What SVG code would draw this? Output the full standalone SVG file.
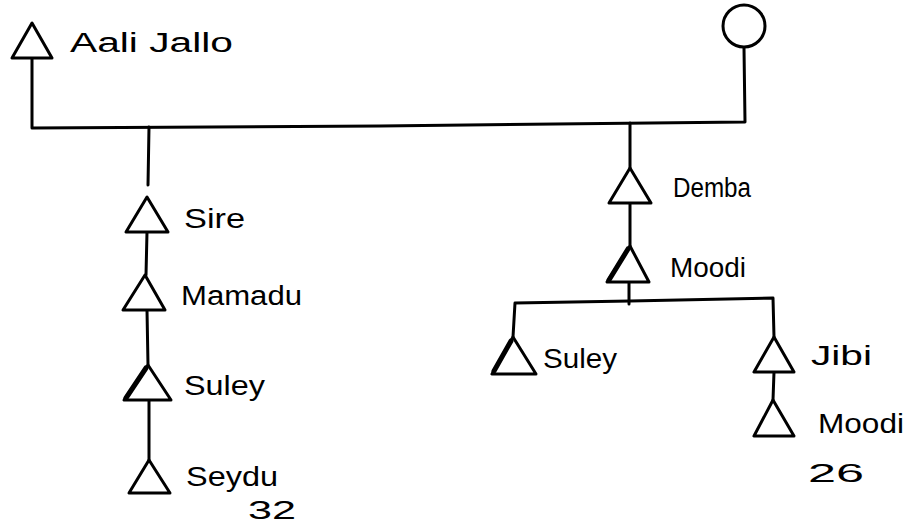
<svg xmlns="http://www.w3.org/2000/svg" width="911" height="526" viewBox="0 0 911 526">
  <style>
    .bg { fill: #ffffff; }
    .line { fill: none; stroke: #000; stroke-width: 3; stroke-linecap: round; stroke-linejoin: round; }
    .male { fill: #fff; stroke: #000; stroke-width: 3; stroke-linejoin: round; }
    .female { fill: #fff; stroke: #000; stroke-width: 3; }
    .heavy { fill: none; stroke: #000; stroke-width: 5; stroke-linecap: round; }
    .name { font-family: "Liberation Sans", Arial, sans-serif; font-size: 27px; fill: #000; }
    .age { font-family: "Liberation Sans", Arial, sans-serif; font-size: 26px; fill: #000; }
  </style>
  <rect class="bg" x="0" y="0" width="911" height="526"/>

  <!-- Lines of descent -->
  <g id="connectors">
    <!-- marriage line between founding couple -->
    <polyline class="line" points="32,58 32,128 380,126 745,122 744,48"/>
    <!-- left line -->
    <polyline class="line" points="149,127 148,185"/>
    <line class="line" x1="147" y1="232" x2="146" y2="275"/>
    <line class="line" x1="147" y1="310" x2="148" y2="365"/>
    <line class="line" x1="149" y1="400" x2="149" y2="460"/>
    <!-- right line -->
    <line class="line" x1="630" y1="123" x2="630" y2="168"/>
    <line class="line" x1="630" y1="203" x2="630" y2="246"/>
    <line class="line" x1="629" y1="282" x2="629" y2="304"/>
    <polyline class="line" points="513,337 515,303 630,301 773,298 774,337"/>
    <line class="line" x1="774" y1="372" x2="773" y2="400"/>
  </g>

  <g id="aali-jallo">
    <polygon class="male" points="32,23 12,58 52,58"/>
    <text class="name" x="70" y="52" textLength="163" lengthAdjust="spacingAndGlyphs">Aali Jallo</text>
  </g>

  <g id="wife">
    <circle class="female" cx="744" cy="26" r="21"/>
  </g>

  <g id="sire">
    <polygon class="male" points="147,197 126,232 168,232"/>
    <text class="name" x="184" y="228" textLength="61" lengthAdjust="spacingAndGlyphs">Sire</text>
  </g>

  <g id="mamadu">
    <polygon class="male" points="145,275 123,310 165,310"/>
    <text class="name" x="181" y="305" textLength="121" lengthAdjust="spacingAndGlyphs">Mamadu</text>
  </g>

  <g id="suley-left">
    <polygon class="male" points="148,365 124,400 171,400"/>
    <line class="heavy" x1="146" y1="368" x2="126" y2="398"/>
    <text class="name" x="184" y="395" textLength="81" lengthAdjust="spacingAndGlyphs">Suley</text>
  </g>

  <g id="seydu">
    <polygon class="male" points="149,460 129,493 170,493"/>
    <text class="name" x="186" y="486" textLength="92" lengthAdjust="spacingAndGlyphs">Seydu</text>
    <text class="age" x="248" y="519" textLength="48" lengthAdjust="spacingAndGlyphs">32</text>
  </g>

  <g id="demba">
    <polygon class="male" points="630,168 609,203 651,203"/>
    <text class="name" x="673" y="197" textLength="78" lengthAdjust="spacingAndGlyphs">Demba</text>
  </g>

  <g id="moodi-middle">
    <polygon class="male" points="630,246 607,282 649,282"/>
    <line class="heavy" x1="628" y1="249" x2="609" y2="280"/>
    <text class="name" x="670" y="277" textLength="76" lengthAdjust="spacingAndGlyphs">Moodi</text>
  </g>

  <g id="suley-right">
    <polygon class="male" points="513,337 492,374 536,374"/>
    <line class="heavy" x1="511" y1="341" x2="494" y2="371"/>
    <text class="name" x="543" y="368" textLength="74" lengthAdjust="spacingAndGlyphs">Suley</text>
  </g>

  <g id="jibi">
    <polygon class="male" points="774,337 754,372 794,372"/>
    <text class="name" x="811" y="365" textLength="61" lengthAdjust="spacingAndGlyphs">Jibi</text>
  </g>

  <g id="moodi-right">
    <polygon class="male" points="773,400 754,436 794,436"/>
    <text class="name" x="818" y="433" textLength="86" lengthAdjust="spacingAndGlyphs">Moodi</text>
    <text class="age" x="808" y="482" textLength="56" lengthAdjust="spacingAndGlyphs">26</text>
  </g>
</svg>
